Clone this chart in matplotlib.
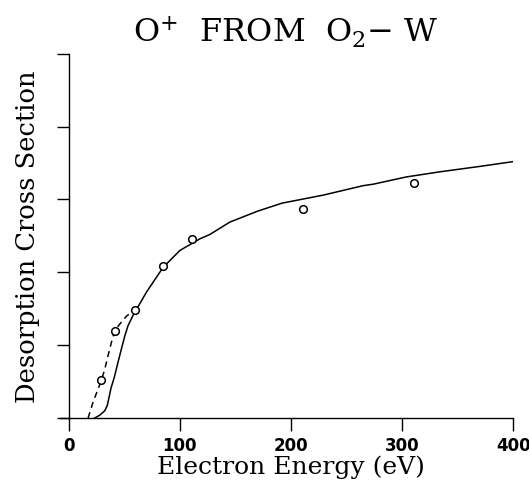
import matplotlib
matplotlib.use("Agg")
import matplotlib.pyplot as plt

# Solid (theory) curve
solid_x = [23.4, 27.9, 32.4, 34.6, 36.2, 38.0, 41.0, 44.4, 47.4, 50.5, 53.4, 57.9, 70, 85, 100, 118, 127,
           145, 170, 192, 229, 265, 274, 304, 334, 368, 400]
solid_y = [0.0, 0.04, 0.10, 0.17, 0.28, 0.41, 0.56, 0.77, 0.95, 1.13, 1.27, 1.41, 1.73, 2.07, 2.30, 2.46, 2.52,
           2.69, 2.84, 2.95, 3.06, 3.19, 3.21, 3.31, 3.38, 3.45, 3.52]

# Dashed curve
dash_x = [17.4, 21.9, 26.4, 29.4, 32.4, 35.4, 38.4, 41.4, 45.9, 52, 59.5]
dash_y = [0.0, 0.22, 0.40, 0.52, 0.67, 0.86, 1.04, 1.20, 1.29, 1.40, 1.48]

# Measured points
pts_x = [29.4, 41.4, 59.5, 84.7, 110.8, 210.6, 311]
pts_y = [0.52, 1.20, 1.48, 2.09, 2.46, 2.87, 3.23]

xticks = [0, 100, 200, 300, 400]
yticks = [0, 1, 2, 3, 4, 5]

plt.rcParams['mathtext.fontset'] = 'dejavuserif'
fig = plt.figure(figsize=(5.29, 4.85), dpi=100)
ax = fig.add_axes([0.130, 0.136, 0.840, 0.751])

ax.plot(solid_x, solid_y, color='black', lw=1.1)
ax.plot(dash_x, dash_y, color='black', lw=1.1, ls=(0, (4, 3)))
ax.plot(pts_x, pts_y, ls='none', marker='o', ms=5.5, mfc='white', mec='black', mew=1.1)

ax.set_xlim(0, 400)
ax.set_ylim(0, 5)
ax.set_xticks(xticks)
ax.set_yticks(yticks)
ax.set_yticklabels([])
ax.set_xticklabels([str(t) for t in xticks], family='DejaVu Sans', fontsize=12, weight='semibold')
ax.tick_params(axis='both', direction='out', length=9, width=1.0, color='black', pad=4)
for s in ['top', 'right']:
    ax.spines[s].set_visible(False)
for s in ['left', 'bottom']:
    ax.spines[s].set_linewidth(1.0)
ax.spines['bottom'].set_bounds(-8, 400)

ax.set_xlabel('Electron Energy (eV)', family='DejaVu Serif', fontsize=18, labelpad=0)
ax.set_ylabel('Desorption Cross Section', family='DejaVu Serif', fontsize=18.5, labelpad=8)
fig.text(0.54, 0.936, r'O$^{+}$  FROM  O$_{2}$$-$ W', family='DejaVu Serif', fontsize=23,
         ha='center', va='center')

fig.savefig('out.png', dpi=100)
